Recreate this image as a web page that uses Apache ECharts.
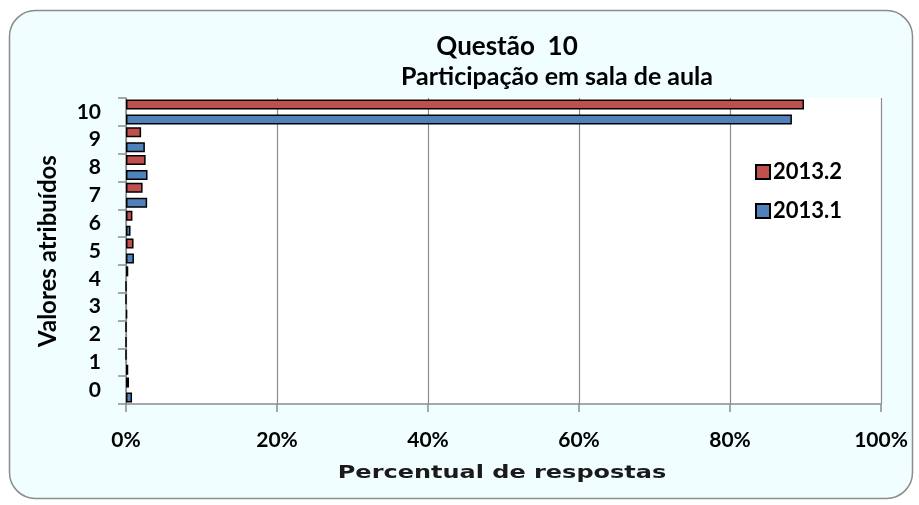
<!DOCTYPE html>
<html>
<head>
<meta charset="utf-8">
<script src="https://cdn.jsdelivr.net/npm/echarts@6/dist/echarts.min.js"></script>
<style>
  html, body { margin: 0; padding: 0; background: #ffffff; }
  #chart { width: 919px; height: 505px; }
</style>
</head>
<body>
<div id="chart"></div>
<script>
// Valores atribuídos (0 a 10), de baixo para cima
const categories = ['0', '1', '2', '3', '4', '5', '6', '7', '8', '9', '10'];
// Percentual de respostas por semestre
const values2013_2 = [0.4, 0, 0, 0, 0.3, 1.0, 0.85, 2.2, 2.6, 2.0, 89.8];
const values2013_1 = [0.8, 0.3, 0, 0.15, 0, 1.05, 0.6, 2.8, 2.85, 2.5, 88.2];
const seriesNames = ['2013.2', '2013.1'];
const percentTicks = [0, 20, 40, 60, 80, 100];

const FONT = 'Lato';
const chart = echarts.init(document.getElementById('chart'));

chart.setOption({
  backgroundColor: '#ffffff',
  animation: false,
  graphic: [{
    type: 'rect',
    z: -10,
    shape: { x: 9.5, y: 10.5, width: 903, height: 488, r: 26 },
    style: { fill: '#f0feff', stroke: '#8c8c8c', lineWidth: 1.5 }
  }, {
    type: 'rect',
    z: -9,
    shape: { x: 126, y: 98, width: 755, height: 306 },
    style: { fill: '#ffffff' }
  }, {
    // título do eixo horizontal, em fonte larga
    type: 'text',
    x: 502, y: 473,
    scaleX: 1.37,
    style: {
      text: 'Percentual de respostas',
      fontFamily: 'DejaVu Sans', fontWeight: 'bold', fontSize: 17.5,
      fill: '#1a1a1a', align: 'center', verticalAlign: 'middle'
    }
  }],
  title: [{
    text: 'Questão  10',
    left: 502, top: 29, textAlign: 'center',
    textStyle: { fontFamily: FONT, fontWeight: 'bold', fontSize: 26, color: '#000' }
  }, {
    text: 'Participação em sala de aula',
    left: 552, top: 59, textAlign: 'center',
    textStyle: { fontFamily: FONT, fontWeight: 'bold', fontSize: 25, color: '#000' }
  }],
  legend: {
    orient: 'vertical',
    left: 755, top: 161, padding: 0,
    icon: 'rect',
    itemWidth: 14, itemHeight: 14, itemGap: 17,
    data: seriesNames,
    textStyle: { fontFamily: FONT, fontWeight: 'bold', fontSize: 22, lineHeight: 22, color: '#000', padding: [0, 0, 0, -2] }
  },
  grid: { left: 126, right: 38, top: 98, bottom: 101, containLabel: false },
  xAxis: {
    type: 'value',
    min: percentTicks[0], max: percentTicks[percentTicks.length - 1], interval: 20,
    axisLine: { show: true, lineStyle: { color: '#8c8c8c', width: 1.5 } },
    axisTick: { show: true, length: 8, lineStyle: { color: '#8c8c8c', width: 1.5 } },
    axisLabel: { margin: 26, formatter: '{value}%', fontFamily: FONT, fontWeight: 'bold', fontSize: 21, color: '#000' },
    splitLine: { show: true, lineStyle: { color: '#8c8c8c', width: 1.2 } }
  },
  yAxis: {
    type: 'category',
    data: categories,
    name: 'Valores atribuídos',
    nameLocation: 'middle', nameGap: 66, nameRotate: 90,
    nameTextStyle: { fontFamily: FONT, fontWeight: 'bold', fontSize: 24, color: '#000' },
    axisLine: { show: true, lineStyle: { color: '#8c8c8c', width: 1.5 } },
    axisTick: { show: true, length: 8, alignWithLabel: false, lineStyle: { color: '#8c8c8c', width: 1.5 } },
    axisLabel: { margin: 25, fontFamily: FONT, fontWeight: 'bold', fontSize: 21, color: '#000' },
    splitLine: { show: false }
  },
  series: [{
    name: seriesNames[0],
    type: 'bar',
    data: values2013_2,
    barWidth: 10,
    barGap: '50%',
    itemStyle: { color: '#c0504d', borderColor: '#000', borderWidth: 1.5 }
  }, {
    name: seriesNames[1],
    type: 'bar',
    data: values2013_1,
    barWidth: 10,
    barGap: '50%',
    itemStyle: { color: '#4f81bd', borderColor: '#000', borderWidth: 1.5 }
  }]
});
</script>
</body>
</html>
